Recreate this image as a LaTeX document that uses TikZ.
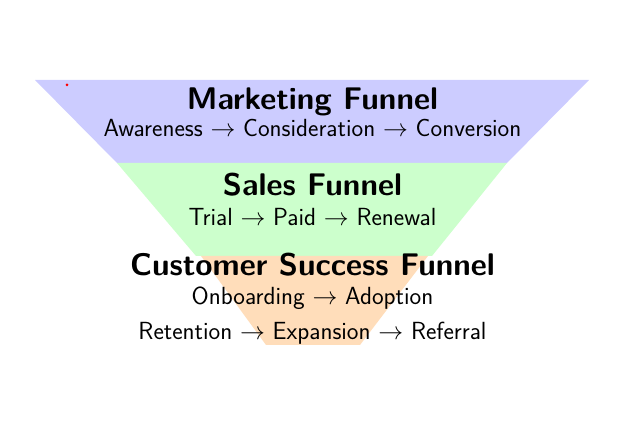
\documentclass[tikz,border=0pt]{standalone}
\usepackage{fontspec}
\begin{document}
\begin{tikzpicture}[x=1pt,y=-1pt,
  ttl/.style={font=\sffamily\bfseries\fontsize{31.3}{36}\selectfont, anchor=base, inner sep=0pt},
  sub/.style={font=\sffamily\fontsize{24.8}{28}\selectfont, anchor=base, inner sep=0pt}]
\useasboundingbox (0,0) rectangle (622,427);
\fill[blue!20] (35,80) -- (589,80) -- (507,163) -- (117,163) -- cycle;
\fill[green!20] (117,163) -- (507,163) -- (432,256) -- (196,256) -- cycle;
\fill[orange!27] (201,256) -- (428,256) -- (360,345) -- (266,345) -- cycle;
\fill[red] (67,85) circle (1.5);
\node[ttl] (t1) at (312.5,110) {Marketing Funnel};
\node[sub] (s1) at (312.5,137) {Awareness $\rightarrow$ Consideration $\rightarrow$ Conversion};
\node[ttl] (t2) at (312.5,196) {Sales Funnel};
\node[sub] (s2) at (312.5,226) {Trial $\rightarrow$ Paid $\rightarrow$ Renewal};
\node[ttl] (t3) at (312.5,276) {Customer Success Funnel};
\node[sub] (s3) at (312.5,305) {Onboarding $\rightarrow$ Adoption};
\node[sub] (s4) at (312.5,340) {Retention $\rightarrow$ Expansion $\rightarrow$ Referral};
\end{tikzpicture}
\end{document}
